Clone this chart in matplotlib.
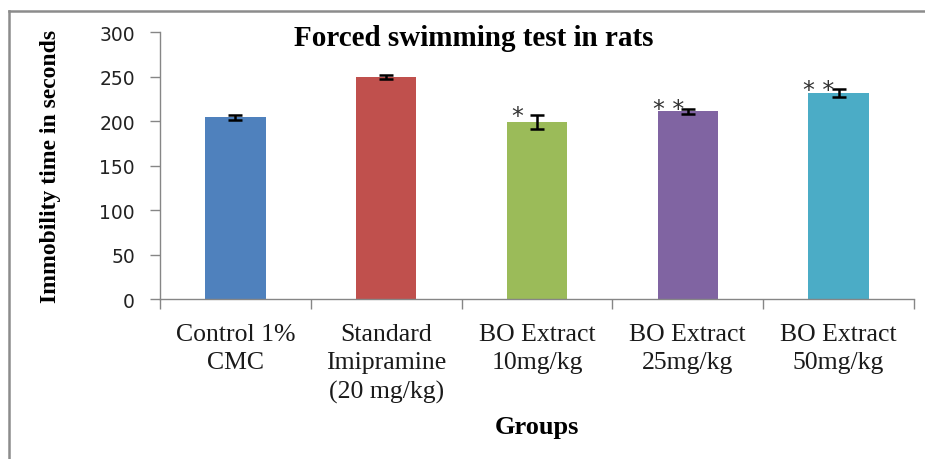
import matplotlib
matplotlib.use("Agg")
import matplotlib.pyplot as plt
from matplotlib.lines import Line2D

categories = ["Control 1%\nCMC", "Standard\nImipramine\n(20 mg/kg)", "BO Extract\n10mg/kg",
              "BO Extract\n25mg/kg", "BO Extract\n50mg/kg"]
means = [204.5, 249.5, 199, 211, 232]
errors = [3, 2.3, 7.5, 3.2, 4.5]
stars = ["", "", "*", "* *", "* *"]
colors = ["#4F81BD", "#C0504D", "#9BBB59", "#8064A2", "#4BACC6"]
yticks = [0, 50, 100, 150, 200, 250, 300]

W, H = 925, 460
fig = plt.figure(figsize=(W / 100, H / 100), dpi=100)
ax = fig.add_axes([160 / W, 1 - 300 / H, (914 - 160) / W, (300 - 33.3) / H])

x = list(range(len(categories)))
ax.bar(x, means, width=0.4, color=colors, zorder=2)
ax.errorbar(x, means, yerr=errors, fmt="none", ecolor="black", elinewidth=1.8,
            capsize=5, capthick=1.8, zorder=3)

for xi, m, e, s in zip(x, means, errors, stars):
    if s:
        ax.text(xi - 0.13, m + e - 1, s, ha="center", va="center",
                fontsize=17, color="#333333", family="DejaVu Sans")

ax.set_xlim(-0.5, len(categories) - 0.5)
ax.set_ylim(0, 300)
ax.set_yticks(yticks)
ax.set_yticklabels([str(v) for v in yticks], fontsize=13.5, family="DejaVu Sans", color="#222222")

ax.set_xticks([i - 0.5 for i in range(len(categories) + 1)])
ax.set_xticklabels([])
ax.set_xticks(x, minor=True)
ax.set_xticklabels(categories, minor=True, fontsize=18.5, family="Liberation Serif",
                   color="#1a1a1a", linespacing=1.38)
ax.tick_params(axis="x", which="minor", length=0, pad=17)
ax.tick_params(axis="x", which="major", length=7, color="#868686", width=1)
ax.tick_params(axis="y", length=7, color="#868686", width=1, pad=11)

for side in ["top", "right"]:
    ax.spines[side].set_visible(False)
for side in ["left", "bottom"]:
    ax.spines[side].set_color("#868686")
    ax.spines[side].set_linewidth(1)

ax.text(0.416, 0.981, "Forced swimming test in rats", transform=ax.transAxes,
        ha="center", va="center", fontsize=21, fontweight="bold", family="Liberation Serif")

ax.set_ylabel("Immobility time in seconds", fontsize=17, fontweight="bold",
              family="Liberation Serif")
ax.yaxis.set_label_coords((61 - 160) / 754, 0.5)
ax.set_xlabel("Groups", fontsize=19, fontweight="bold", family="Liberation Serif")
ax.xaxis.set_label_coords(0.5, (300 - 428) / 266.7)
ax.xaxis.label.set_va("center")

# figure border (top and left only, as in the reference)
fig.add_artist(Line2D([9 / W, 1], [1 - 12 / H, 1 - 12 / H], transform=fig.transFigure,
                      color="#8c8c8c", lw=1.8))
fig.add_artist(Line2D([9 / W, 9 / W], [0, 1 - 12 / H], transform=fig.transFigure,
                      color="#8c8c8c", lw=1.8))

fig.savefig("out.png", dpi=100)
